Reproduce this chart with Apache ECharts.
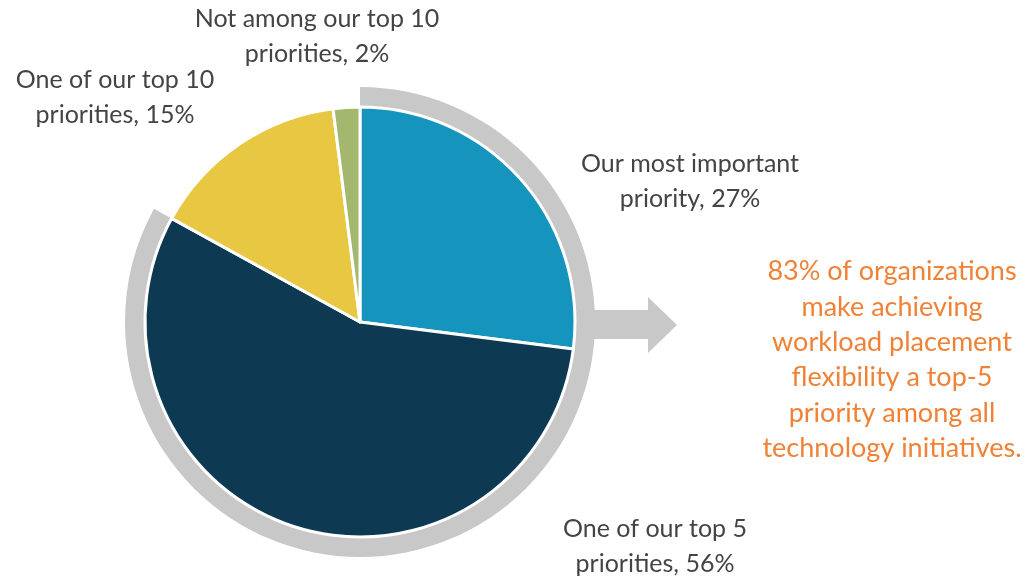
<!DOCTYPE html>
<html>
<head>
<meta charset="utf-8">
<script src="https://cdn.jsdelivr.net/npm/echarts@6/dist/echarts.min.js"></script>
<style>
  html, body { margin: 0; padding: 0; background: #fff; }
  #chart { width: 1034px; height: 577px; }
</style>
</head>
<body>
<div id="chart"></div>
<script>
// slice data (clockwise from 12 o'clock)
const categories = [
  'Our most important\npriority',
  'One of our top 5\npriorities',
  'One of our top 10\npriorities',
  'Not among our top 10\npriorities'
];
const values = [27, 56, 15, 2];
const colors = ['#1595bd', '#0d3a52', '#e8c742', '#a3b86e'];

// label anchor points (block centres, px)
const labelSpots = [[690, 181], [655, 546], [115, 97], [317, 36]];

const calloutText = '83% of organizations\nmake achieving\nworkload placement\nflexibility a top-5\npriority among all\ntechnology initiatives.';

const chartDom = document.getElementById('chart');
const myChart = echarts.init(chartDom, undefined, { renderer: 'canvas' });

// the grey ring spans the top two answers
const ringValue = values[0] + values[1];

const option = {
  animation: false,
  textStyle: { fontFamily: 'Lato' },
  graphic: [
    {
      type: 'polygon',
      z: 1,
      shape: {
        points: [[590, 310], [648, 310], [648, 297], [677, 325], [648, 353], [648, 339], [590, 339]]
      },
      style: { fill: '#c8c8c8' }
    },
    {
      type: 'text',
      x: 892,
      y: 360,
      style: {
        text: calloutText,
        fill: '#ef8236',
        font: '27px Lato',
        align: 'center',
        verticalAlign: 'middle',
        lineHeight: 35.4
      }
    }
  ],
  series: [
    {
      type: 'pie',
      silent: true,
      center: [360, 322],
      radius: [214, 235],
      startAngle: 90,
      clockwise: true,
      z: 2,
      label: { show: false },
      labelLine: { show: false },
      data: [
        { value: ringValue, itemStyle: { color: '#c8c8c8' } },
        { value: 100 - ringValue, itemStyle: { color: 'rgba(0,0,0,0)' } }
      ]
    },
    {
      type: 'pie',
      silent: true,
      center: [360, 322],
      radius: [0, 215],
      startAngle: 90,
      clockwise: true,
      z: 3,
      avoidLabelOverlap: false,
      itemStyle: { borderColor: '#fff', borderWidth: 3 },
      label: {
        show: true,
        position: 'outside',
        color: '#444',
        fontSize: 25,
        fontFamily: 'Lato',
        lineHeight: 35,
        formatter: (p) => p.name + ', ' + p.value + '%'
      },
      labelLine: { show: false },
      labelLayout: (p) => ({
        x: labelSpots[p.dataIndex][0],
        y: labelSpots[p.dataIndex][1],
        align: 'center',
        verticalAlign: 'middle',
        hideOverlap: false,
        moveOverlap: null
      }),
      data: categories.map((c, i) => ({
        name: c,
        value: values[i],
        itemStyle: { color: colors[i] }
      }))
    }
  ]
};

myChart.setOption(option);
window.addEventListener('resize', () => {
  myChart.resize();
});
</script>
</body>
</html>
